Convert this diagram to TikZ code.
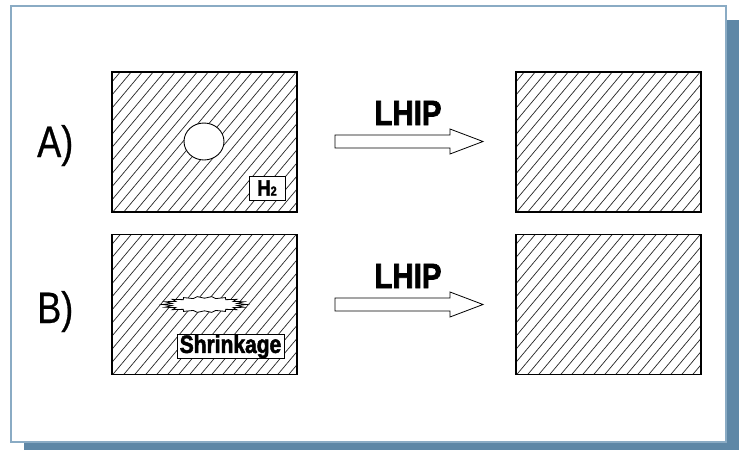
\documentclass[tikz,border=0pt]{standalone}
\usepackage{fontspec}
\setmainfont{Liberation Sans}
\newfontfamily\labfont[FakeStretch=0.82,FakeBold=0.6]{Liberation Sans}
\newfontfamily\boldcond[FakeStretch=0.84,FakeBold=2]{Liberation Sans}
\definecolor{framecol}{HTML}{8AABC4}
\definecolor{shadowcol}{HTML}{5E87A6}
\tikzset{
  hatchline/.style={line width=0.7pt, black!85},
  hbox/.style={draw, line width=1.1pt, minimum width=185pt, minimum height=140pt, inner sep=0pt,
    path picture={
      \foreach \k in {-16,...,16}{
        \draw[hatchline] ([xshift=\k*11pt]path picture bounding box.center) ++(230:200pt) -- ++(50:400pt);
      }
    }},
  tagbox/.style={draw, line width=1pt, fill=white, inner sep=0pt, font=\boldcond\bfseries},
  biglab/.style={font=\labfont\fontsize{44}{44}\selectfont, inner sep=0pt, anchor=base west},
  lhip/.style={font=\boldcond\bfseries\fontsize{35}{35}\selectfont, inner sep=0pt, anchor=base},
  blockarrow/.style={draw, line width=0.8pt, fill=white, line join=miter},
}
\begin{document}
\begin{tikzpicture}[x=1pt,y=-1pt]
\useasboundingbox (0,0) rectangle (739,450);
% frame with shadow
\fill[shadowcol] (24,20) rectangle (739,450);
\draw[framecol, line width=1.6pt, fill=white] (11,6) rectangle (726,442);

% boxes
\node[hbox] (A1) at (204.5,142) {};
\node[hbox] (A2) at (608.5,142) {};
\node[hbox] (B1) at (204.5,304.5) {};
\node[hbox] (B2) at (608.5,304.5) {};

% pore in A
\draw[line width=0.9pt, fill=white] (204,141.5) ellipse [x radius=20, y radius=18.5];
\node[tagbox, font=\boldcond\bfseries\fontsize{22}{22}\selectfont, minimum width=36pt, minimum height=24pt] (h2) at (267,188) {H{\fontsize{13}{13}\selectfont 2}};

% shrinkage cavity in B
\begin{scope}[shift={(204.5,304.5)}]
\draw[line width=0.8pt, fill=white, line join=miter]
  (0:42 and 8) foreach \a in {0,20,...,340}{ -- (\a+10:33 and 6.3) -- (\a+20:42 and 8) } -- cycle;
\end{scope}
\node[tagbox, font=\boldcond\bfseries\fontsize{25}{25}\selectfont, minimum width=107pt, minimum height=23pt] (shr) at (230.5,346.5) {Shrinkage};

% labels
\node[biglab] (la) at (37,157) {A)};
\node[biglab] (lb) at (37,323) {B)};

% arrows
\coordinate (arA) at (335,141.5);
\coordinate (arB) at (335,304.5);
\foreach \c in {arA,arB}{
  \draw[blockarrow] (\c) ++(0,-6.5) -- ++(115,0) -- ++(0,-6) -- ++(33,12.5) -- ++(-33,12.5) -- ++(0,-6) -- ++(-115,0) -- cycle;
}
\node[lhip] (tA) at (408,125) {LHIP};
\node[lhip] (tB) at (408,288) {LHIP};
\end{tikzpicture}
\end{document}
